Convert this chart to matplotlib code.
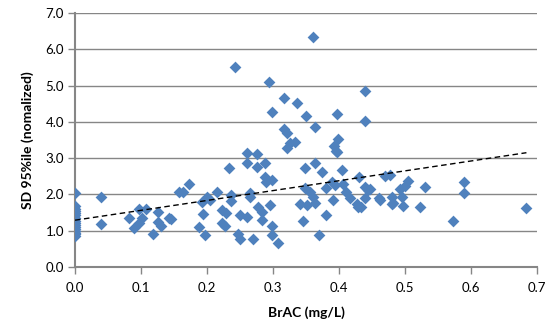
import matplotlib.pyplot as plt

plt.rcParams['font.family'] = ['Lato', 'DejaVu Sans']

# BrAC (mg/L) and SD 95%ile values
brac = [0, 0, 0, 0, 0, 0, 0, 0, 0, 0, 0, 0, 0, 0, 0, 0,
        0.040, 0.040, 0.082, 0.089, 0.097, 0.108, 0.101, 0.097, 0.118, 0.126,
        0.126, 0.131, 0.143, 0.146, 0.157, 0.164, 0.173,
        0.188, 0.192, 0.194, 0.197, 0.200, 0.205, 0.215, 0.222, 0.222, 0.227,
        0.229, 0.234, 0.237, 0.237, 0.243, 0.247, 0.250, 0.250, 0.260, 0.260,
        0.261, 0.265, 0.265, 0.270, 0.276, 0.276, 0.278, 0.283, 0.283, 0.288,
        0.288, 0.290, 0.294, 0.295, 0.298, 0.298, 0.298, 0.299, 0.308,
        0.317, 0.317, 0.321, 0.321, 0.326, 0.333, 0.337, 0.341, 0.345, 0.348,
        0.348, 0.350, 0.351, 0.356, 0.360, 0.361, 0.364, 0.364, 0.364, 0.369,
        0.374, 0.381, 0.381, 0.389, 0.391, 0.392, 0.394, 0.395, 0.397, 0.397,
        0.399, 0.405, 0.406, 0.411, 0.417, 0.427, 0.429, 0.430, 0.434, 0.439,
        0.439, 0.439, 0.440, 0.444, 0.447, 0.460, 0.462, 0.470, 0.477, 0.480,
        0.480, 0.482, 0.492, 0.495, 0.497, 0.500, 0.505, 0.523, 0.530, 0.573,
        0.589, 0.589, 0.684]
sd95 = [2.05, 1.68, 1.60, 1.55, 1.50, 1.42, 1.35, 1.28, 1.20, 1.15, 1.10, 1.05, 1.00, 0.95, 0.90, 0.85,
        1.92, 1.18, 1.36, 1.08, 1.59, 1.59, 1.34, 1.20, 0.90, 1.52,
        1.24, 1.12, 1.34, 1.31, 2.07, 2.07, 2.30,
        1.09, 1.80, 1.47, 0.88, 1.93, 1.84, 2.07, 1.57, 1.22, 1.12,
        1.49, 2.72, 1.98, 1.82, 5.50, 0.92, 1.43, 0.78, 3.13, 2.87,
        1.38, 2.04, 1.93, 0.78, 3.11, 2.76, 1.66, 1.52, 1.29, 2.86,
        2.49, 2.35, 5.11, 1.70, 2.41, 1.12, 0.88, 4.28, 0.65,
        4.65, 3.80, 3.69, 3.29, 3.41, 3.45, 4.51, 1.75, 1.27, 2.74,
        2.17, 4.17, 1.70, 2.07, 6.33, 1.93, 2.86, 3.87, 1.77, 0.88,
        2.63, 2.19, 1.43, 2.35, 1.84, 3.33, 2.26, 3.20, 3.18, 4.22,
        3.52, 2.67, 2.30, 2.07, 1.89, 1.75, 1.66, 2.47, 1.66, 1.89,
        4.85, 4.02, 2.21, 2.12, 2.14, 1.89, 1.86, 2.51, 2.53, 1.93,
        1.75, 1.77, 2.14, 1.92, 1.68, 2.23, 2.38, 1.64, 2.21, 1.27,
        2.34, 2.04, 1.63]

# linear trendline ends
trend_x = [0, 0.684]
trend_y = [1.29, 3.15]

fig = plt.figure(figsize=(5.52, 3.22), dpi=100)
ax = fig.add_axes([0.1359, 0.1708, 0.8369, 0.7888])

ax.scatter(brac, sd95, marker='D', s=36, color='#4F81BD', linewidths=0, zorder=3)
ax.plot(trend_x, trend_y, color='black', linestyle=(0, (4, 2.5)), linewidth=1, zorder=4)

ax.set_xlim(0, 0.7)
ax.set_ylim(0, 7)
ax.set_xticks([i / 10 for i in range(8)])
ax.set_yticks(range(8))
ax.set_xticklabels(['%.1f' % (i / 10) for i in range(8)])
ax.set_yticklabels(['%.1f' % i for i in range(8)])
ax.yaxis.grid(True, color='#868686', linewidth=1)
ax.set_axisbelow(True)

for side in ['top', 'right']:
    ax.spines[side].set_visible(False)
for side in ['left', 'bottom']:
    ax.spines[side].set_color('#868686')
    ax.spines[side].set_linewidth(1.5)
ax.tick_params(axis='both', colors='#868686', length=5, width=1, labelsize=9.5,
               labelcolor='black', direction='out')
ax.tick_params(axis='y', pad=3)
ax.tick_params(axis='x', pad=6)

ax.set_xlabel('BrAC (mg/L)', fontsize=10, fontweight='bold', labelpad=9)
ax.set_ylabel('SD 95%ile (nomalized)', fontsize=10, fontweight='bold', labelpad=8)

fig.savefig('out.png')
